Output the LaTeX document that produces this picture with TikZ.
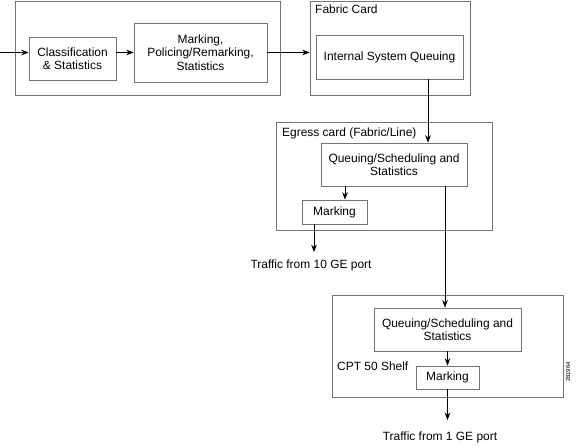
\documentclass[tikz,border=0pt]{standalone}
\usepackage{fontspec}
\setmainfont{Liberation Sans}
\usetikzlibrary{positioning}
\usetikzlibrary{arrows.meta}
\tikzset{
    card/.style={shape=rectangle,draw=black!55,line width=0.8pt},
    unit/.style={shape=rectangle,draw=black!55,line width=0.8pt,align=center,inner sep=1pt},
    tag/.style={inner sep=0pt},
    flow/.style={draw=black,line width=0.8pt,-{Stealth[length=2.6mm, width=2mm]}},
}

\begin{document}
\begin{tikzpicture}[x=1bp,y=-1bp,font=\fontsize{12}{13.5}\selectfont]
    \useasboundingbox (0,0) rectangle (576,448);

    \node[card,minimum width=265bp,minimum height=94bp] (ingress) at (147.5,48) {};
    \node[unit,minimum width=87bp,minimum height=43bp] (classify) at (72.5,58.5) {Classification\\\& Statistics};
    \node[unit,minimum width=133bp,minimum height=59bp] (police) at (200.5,52.5) {Marking,\\Policing/Remarking,\\Statistics};

    \node[card,minimum width=160bp,minimum height=94bp] (fabric) at (390,48) {};
    \node[tag,anchor=north west] (fabriclbl) at (315,5) {Fabric Card};
    \node[unit,minimum width=147bp,minimum height=44bp] (isq) at (389.5,57) {Internal System Queuing};

    \node[card,minimum width=216bp,minimum height=108bp] (egress) at (384,176) {};
    \node[tag,anchor=west] (egresslbl) at (282,133) {Egress card (Fabric/Line)};
    \node[unit,minimum width=146bp,minimum height=43bp] (qs_e) at (394,164.5) {Queuing/Scheduling and\\Statistics};
    \node[unit,minimum width=65bp,minimum height=24bp] (mark_e) at (334.5,212) {Marking};
    \node[tag] (port10) at (311,265) {Traffic from 10 GE port};

    \node[card,minimum width=231bp,minimum height=102bp] (shelf) at (447.5,346) {};
    \node[tag,anchor=west] (shelflbl) at (337,366) {CPT 50 Shelf};
    \node[unit,minimum width=147bp,minimum height=43bp] (qs_c) at (447.5,329.5) {Queuing/Scheduling and\\Statistics};
    \node[unit,minimum width=63bp,minimum height=23bp] (mark_c) at (447.5,377.5) {Marking};
    \node[tag] (port1) at (440,437) {Traffic from 1 GE port};

    \node[tag,rotate=90,font=\fontsize{6}{7}\selectfont] (figid) at (568,372) {281964};

    \coordinate (src) at (0,52.5);
    \coordinate (drop_f) at (428,0);
    \coordinate (drop_e) at (445,0);
    \coordinate (drop_m) at (345,0);
    \coordinate (out_e) at (314,252);
    \coordinate (out_c) at (447.5,420);

    \draw [flow] (src) -- (classify.west |- src);
    \draw [flow] (classify.east |- police.west) -- (police.west);
    \draw [flow] (police.east) -- (fabric.west |- police.east);
    \draw [flow] (isq.south -| drop_f) -- (qs_e.north -| drop_f);
    \draw [flow] (qs_e.south -| drop_m) -- (mark_e.north -| drop_m);
    \draw [flow] (mark_e.south -| out_e) -- (out_e);
    \draw [flow] (qs_e.south -| drop_e) -- (qs_c.north -| drop_e);
    \draw [flow] (qs_c.south) -- (mark_c.north);
    \draw [flow] (mark_c.south) -- (out_c);
\end{tikzpicture}
\end{document}
